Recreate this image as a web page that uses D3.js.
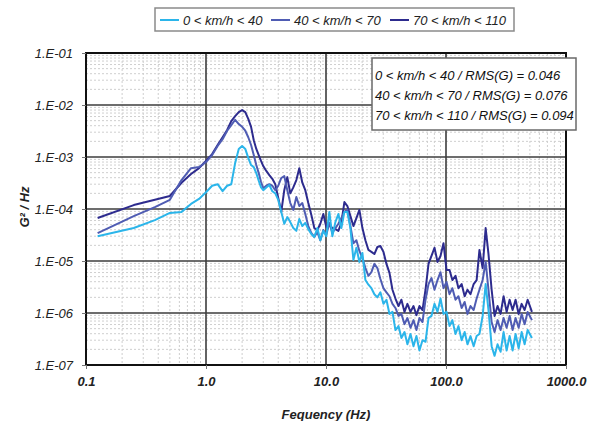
<!DOCTYPE html>
<html><head><meta charset="utf-8">
<script src="https://cdn.jsdelivr.net/npm/d3@7/dist/d3.min.js"></script>
<style>
html,body{margin:0;padding:0;background:#fff;}
svg{display:block;}
text{font-family:"Liberation Sans",Arial,sans-serif;}
</style></head>
<body>
<svg id="chart" width="602" height="421"></svg>
<script>
// ---------- DATA ----------
const freq = [
  0.125,0.25,0.375,0.5,0.625,0.75,0.875,1.0,1.125,1.25,1.375,1.5,1.625,1.75,1.875,2.0,2.125,2.25,2.375,2.5,2.625,2.75,2.875,
  3.0,3.18,3.37,3.57,3.78,4.0,4.24,4.49,4.76,5.04,
  5.34,5.66,5.99,6.35,6.72,7.12,7.55,7.99,8.47,8.97,
  9.5,10.06,10.66,11.3,11.97,12.68,13.43,14.23,15.07,15.97,
  16.92,17.92,18.98,20.11,21.3,22.57,23.9,25.3,26.8,28.4,
  30.1,31.9,33.8,35.8,37.9,40.2,42.5,45.1,47.7,50.6,
  53.6,56.7,60.1,63.7,67.5,71.5,75.7,80.2,85,90,
  95.3,101,107,113,120,127,135,143,151,160,
  170,180,190,202,214,226,240,254,269,285,
  302,320,339,359,380,403,427,452,479,520
];
const s1 = [ // 0 < km/h < 40
  3.0e-5,4.3e-5,6.1e-5,8.4e-5,8.8e-5,1.25e-4,1.56e-4,2.1e-4,2.8e-4,3.0e-4,2.2e-4,2.8e-4,3.0e-4,7.7e-4,1.43e-3,1.63e-3,1.43e-3,9.6e-4,7.0e-4,6.4e-4,4.9e-4,3.5e-4,2.6e-4,
  2.3e-4,2.6e-4,2.9e-4,2.2e-4,2.0e-4,1.5e-4,8.8e-5,5.2e-5,7.0e-5,5.6e-5,
  4.3e-5,3.8e-5,6.4e-5,4.7e-5,5.4e-5,4.1e-5,3.3e-5,2.9e-5,4.3e-5,2.5e-5,
  3.8e-5,3.0e-5,8.8e-5,3.0e-5,5.6e-5,8.0e-5,4.3e-5,8.8e-5,8.8e-5,4.3e-5,
  1.05e-5,1.8e-5,9.6e-6,1.43e-5,4.3e-6,3.5e-6,3.0e-6,2.3e-6,2.0e-6,2.5e-6,
  1.5e-6,1.8e-6,9.6e-7,1.05e-6,4.7e-7,5.6e-7,3.3e-7,4.3e-7,2.5e-7,3.95e-7,
  2.3e-7,3.6e-7,1.9e-7,3.0e-7,2.8e-7,8.0e-7,8.8e-7,1.5e-6,1.05e-6,1.9e-6,
  9.6e-7,1.05e-6,5.6e-7,7.3e-7,3.95e-7,5.6e-7,3.0e-7,4.3e-7,2.5e-7,3.6e-7,
  2.3e-7,3.6e-7,3.95e-7,8.8e-7,3.6e-6,1.14e-6,2.3e-7,1.5e-7,2.5e-7,1.8e-7,
  4.3e-7,1.9e-7,3.6e-7,1.9e-7,3.95e-7,2.1e-7,4.3e-7,2.5e-7,4.7e-7,3.3e-7
];
const s2 = [ // 40 < km/h < 70
  3.45e-5,7.3e-5,1.09e-4,1.5e-4,3.6e-4,6.1e-4,6.4e-4,8.0e-4,1.09e-3,1.63e-3,2.2e-3,3.2e-3,4.1e-3,5.2e-3,4.3e-3,3.8e-3,3.2e-3,2.4e-3,1.7e-3,1.09e-3,7.0e-4,4.9e-4,3.3e-4,
  2.5e-4,2.8e-4,3.0e-4,2.8e-4,2.3e-4,2.8e-4,3.95e-4,4.3e-4,2.3e-4,1.3e-4,
  9.6e-5,1.7e-4,1.14e-4,1.3e-4,8.0e-5,4.7e-5,3.45e-5,2.9e-5,3.6e-5,2.5e-5,
  3.95e-5,3.2e-5,5.4e-5,3.45e-5,4.3e-5,5.2e-5,6.7e-5,8.8e-5,9.6e-5,4.7e-5,
  2.2e-5,2.5e-5,1.56e-5,1.14e-5,7.3e-6,5.2e-6,6.1e-6,8.8e-6,7.3e-6,4.5e-6,
  3.0e-6,2.5e-6,2.1e-6,1.5e-6,1.25e-6,8.8e-7,9.6e-7,6.1e-7,8.0e-7,5.2e-7,
  7.3e-7,4.7e-7,8.0e-7,6.7e-7,1.8e-6,3.6e-6,4.7e-6,2.8e-6,4.3e-6,6.1e-6,
  3.0e-6,3.95e-6,2.3e-6,3.0e-6,1.8e-6,2.1e-6,1.25e-6,1.63e-6,9.6e-7,1.36e-6,
  1.14e-6,1.9e-6,2.8e-6,4.3e-6,9.6e-6,2.8e-6,6.7e-7,4.3e-7,7.3e-7,4.7e-7,
  8.0e-7,5.2e-7,8.8e-7,4.7e-7,8.0e-7,5.2e-7,9.6e-7,6.1e-7,1.05e-6,7.3e-7
];
const s3 = [ // 70 < km/h < 110
  6.7e-5,1.19e-4,1.5e-4,1.78e-4,3.2e-4,4.7e-4,6.1e-4,8.4e-4,1.14e-3,1.7e-3,2.4e-3,3.3e-3,4.9e-3,6.1e-3,7.3e-3,8.0e-3,7.3e-3,5.4e-3,3.8e-3,2.1e-3,1.43e-3,1.09e-3,8.4e-4,
  6.7e-4,5.4e-4,4.5e-4,3.8e-4,3.0e-4,1.63e-4,8.8e-5,2.3e-4,4.1e-4,2.0e-4,
  2.6e-4,3.6e-4,6.1e-4,3.2e-4,2.3e-4,1.3e-4,7.7e-5,4.3e-5,3.95e-5,5.2e-5,
  8.0e-5,4.5e-5,4.9e-5,4.3e-5,4.1e-5,3.8e-5,5.4e-5,1.36e-4,1.14e-4,7.3e-5,
  4.7e-5,6.7e-5,9.6e-5,4.3e-5,2.5e-5,1.63e-5,1.5e-5,1.36e-5,1.86e-5,1.94e-5,
  1.5e-5,8.8e-6,5.9e-6,2.8e-6,1.9e-6,1.36e-6,1.8e-6,1.05e-6,1.5e-6,1.05e-6,
  1.36e-6,9.1e-7,1.36e-6,1.14e-6,2.8e-6,8.8e-6,1.25e-5,1.8e-5,9.6e-6,1.25e-5,
  2.2e-5,6.7e-6,6.7e-6,4.3e-6,5.2e-6,3.0e-6,3.6e-6,2.1e-6,2.8e-6,2.3e-6,
  3.6e-6,4.3e-6,1.63e-5,7.3e-6,4.3e-5,1.36e-5,2.8e-6,8.8e-7,1.36e-6,9.6e-7,
  2.1e-6,1.05e-6,1.8e-6,1.14e-6,1.8e-6,9.6e-7,1.5e-6,1.14e-6,1.8e-6,1.05e-6
];
const seriesNames = ["0 < km/h < 40", "40 < km/h < 70", "70 < km/h < 110"];
const rmsValues = ["0.046", "0.076", "0.094"];
const xTicks = [0.1, 1, 10, 100, 1000];
const xTickLabels = ["0.1", "1.0", "10.0", "100.0", "1000.0"];
const yTicks = [1e-1, 1e-2, 1e-3, 1e-4, 1e-5, 1e-6, 1e-7];
const yTickLabels = ["1.E-01", "1.E-02", "1.E-03", "1.E-04", "1.E-05", "1.E-06", "1.E-07"];
const xTitle = "Fequency (Hz)";
const yTitle = "G² / Hz";

// ---------- DRAW ----------
const colors = ["#2bb5ea", "#4f5cb3", "#2d2b8e"];
const svg = d3.select("#chart");
const L = 86, R = 566, T = 53, B = 365;
const x = d3.scaleLog().domain([0.1, 1000]).range([L, R]);
const y = d3.scaleLog().domain([1e-7, 1e-1]).range([B, T]);

// minor grid
const minorX = [], minorY = [];
for (let e = -1; e < 3; e++) for (let m = 2; m <= 9; m++) minorX.push(m * Math.pow(10, e));
for (let e = -7; e < -1; e++) for (let m = 2; m <= 9; m++) minorY.push(m * Math.pow(10, e));
const g = svg.append("g");
g.selectAll(".mx").data(minorX).join("line")
  .attr("x1", d => x(d)).attr("x2", d => x(d)).attr("y1", T).attr("y2", B)
  .attr("stroke", "#cfcfcf").attr("stroke-width", 1).attr("stroke-dasharray", "2,2");
g.selectAll(".my").data(minorY).join("line")
  .attr("y1", d => y(d)).attr("y2", d => y(d)).attr("x1", L).attr("x2", R)
  .attr("stroke", "#cfcfcf").attr("stroke-width", 1).attr("stroke-dasharray", "2,2");
// major grid
g.selectAll(".Mx").data(xTicks).join("line")
  .attr("x1", d => x(d)).attr("x2", d => x(d)).attr("y1", T).attr("y2", B)
  .attr("stroke", "#3c3c3c").attr("stroke-width", 1.6);
g.selectAll(".My").data(yTicks).join("line")
  .attr("y1", d => y(d)).attr("y2", d => y(d)).attr("x1", L).attr("x2", R)
  .attr("stroke", "#3c3c3c").attr("stroke-width", 1.6);

// series (light drawn last / on top)
const line = d3.line().x(d => x(d[0])).y(d => y(d[1]));
const series = [s1, s2, s3];
[2, 1, 0].forEach(i => {
  const pts = freq.map((f, k) => [f, series[i][k]]);
  svg.append("path").datum(pts).attr("d", line)
    .attr("fill", "none").attr("stroke", colors[i]).attr("stroke-width", 2)
    .attr("stroke-linejoin", "round");
});

// frame
svg.append("rect").attr("x", L).attr("y", T).attr("width", R - L).attr("height", B - T)
  .attr("fill", "none").attr("stroke", "#111").attr("stroke-width", 2);

// axes
const xAxis = d3.axisBottom(x).tickValues(xTicks).tickFormat((d, i) => xTickLabels[i]).tickSize(4).tickPadding(8);
const gx = svg.append("g").attr("transform", `translate(0,${B})`).call(xAxis);
gx.select(".domain").remove();
gx.selectAll("line").attr("stroke", "#777");
gx.selectAll("text").attr("font-size", 13).attr("font-style", "italic").attr("font-weight", "bold")
  .attr("fill", "#222").attr("font-family", "'Liberation Sans', Arial, sans-serif");

const yAxis = d3.axisLeft(y).tickValues(yTicks).tickFormat((d, i) => yTickLabels[i]).tickSize(4).tickPadding(9);
const gy = svg.append("g").attr("transform", `translate(${L},0)`).call(yAxis);
gy.select(".domain").remove();
gy.selectAll("line").attr("stroke", "#777");
gy.selectAll("text").attr("font-size", 13).attr("font-style", "italic")
  .attr("fill", "#222").attr("font-family", "'Liberation Sans', Arial, sans-serif");

// axis titles
svg.append("text").attr("x", 326).attr("y", 419).attr("text-anchor", "middle")
  .attr("font-size", 13).attr("font-weight", "bold").attr("font-style", "italic").attr("fill", "#222")
  .text(xTitle);
svg.append("text").attr("transform", "translate(29,207) rotate(-90)").attr("text-anchor", "middle")
  .attr("font-size", 13).attr("font-weight", "bold").attr("font-style", "italic").attr("fill", "#222")
  .text(yTitle);

// legend
const lg = svg.append("g");
lg.append("rect").attr("x", 155).attr("y", 8).attr("width", 359).attr("height", 23)
  .attr("fill", "#fff").attr("stroke", "#8a8a8a").attr("stroke-width", 1.5);
const legX = [160, 271, 390];
seriesNames.forEach((n, i) => {
  lg.append("line").attr("x1", legX[i]).attr("x2", legX[i] + 19).attr("y1", 20).attr("y2", 20)
    .attr("stroke", colors[i]).attr("stroke-width", 2);
  lg.append("text").attr("x", legX[i] + 23).attr("y", 25).attr("font-size", 13)
    .attr("font-style", "italic").attr("fill", "#222").text(n);
});

// annotation box
const ab = svg.append("g");
ab.append("rect").attr("x", 372).attr("y", 58).attr("width", 204).attr("height", 72)
  .attr("fill", "#fff").attr("stroke", "#6a6a6a").attr("stroke-width", 1.5);
seriesNames.forEach((n, i) => {
  ab.append("text").attr("x", 375).attr("y", 80 + i * 20).attr("font-size", 13)
    .attr("font-style", "italic").attr("fill", "#111")
    .text(`${n} / RMS(G) = ${rmsValues[i]}`);
});
</script>
</body></html>
